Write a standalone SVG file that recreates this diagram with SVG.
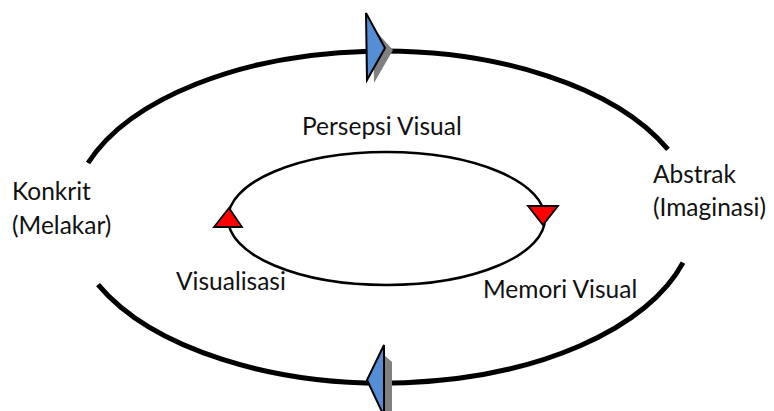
<svg xmlns="http://www.w3.org/2000/svg" width="774" height="411" viewBox="0 0 774 411">
<style>
.outer{fill:none;stroke:#000;stroke-width:5}
.inner{fill:none;stroke:#000;stroke-width:2.5}
.blue{fill:#558ED5;stroke:#000;stroke-width:2;stroke-linejoin:miter}
.shadow{fill:#808080;stroke:none}
.red{fill:#FF0000;stroke:#000;stroke-width:1.8;stroke-linejoin:miter}
text{font-family:Lato,"Liberation Sans",sans-serif;font-size:24.5px;fill:#111}
</style>
<rect width="774" height="411" fill="#fff"/>
<g id="connectors">
<path class="outer" d="M 88 163 A 312 166 0 0 1 668 149.4"/>
<path class="outer" d="M 683 262.6 A 312 166 0 0 1 98 284.7"/>
<ellipse class="inner" cx="386.5" cy="218.5" rx="158.5" ry="66.5"/>
</g>
<g id="arrow-top">
<polygon class="shadow" points="373,28 393,50 374,83"/>
<polygon class="blue" points="366,13 385,48 367,80"/>
</g>
<g id="arrow-bottom">
<polygon class="shadow" points="383,354 392,362 392,411 383,411"/>
<polygon class="blue" points="384,345 367,380 384,416"/>
</g>
<g id="arrow-left">
<polygon class="red" points="229,208 242,227 214,227"/>
</g>
<g id="arrow-right">
<polygon class="red" points="528,206 558,206 543,225"/>
</g>
<g id="node-konkrit">
<text x="12" y="200">Konkrit</text>
<text x="12" y="234">(Melakar)</text>
</g>
<g id="node-abstrak">
<text x="653" y="183">Abstrak</text>
<text x="653" y="216">(Imaginasi)</text>
</g>
<g id="node-persepsi">
<text x="302" y="135">Persepsi Visual</text>
</g>
<g id="node-visualisasi">
<text x="176" y="290">Visualisasi</text>
</g>
<g id="node-memori">
<text x="483" y="298">Memori Visual</text>
</g>
</svg>
